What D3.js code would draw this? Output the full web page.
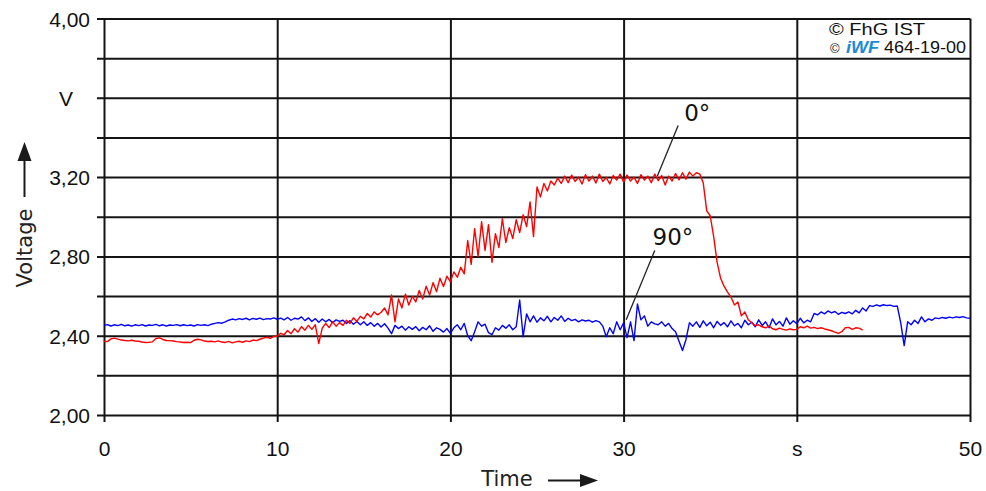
<!DOCTYPE html>
<html>
<head>
<meta charset="utf-8">
<script src="https://cdn.jsdelivr.net/npm/d3@7"></script>
<style>
  html, body { margin: 0; padding: 0; background: #fff; }
  svg { display: block; }
</style>
</head>
<body>
<svg id="chart" width="986" height="491"></svg>
<script>
// Sampling interval of both recorded traces, seconds
const sampleStep = 0.2;

// Sensor voltage at 0° orientation (red), V, sampled from t = 0 s
const voltage0 = [
  2.372, 2.370, 2.384, 2.388, 2.383, 2.378, 2.376, 2.374, 2.377, 2.373,
  2.372, 2.368, 2.366, 2.367, 2.369, 2.386, 2.389, 2.381, 2.376, 2.375,
  2.373, 2.370, 2.368, 2.366, 2.367, 2.365, 2.377, 2.382, 2.379, 2.373,
  2.371, 2.372, 2.369, 2.374, 2.368, 2.366, 2.371, 2.364, 2.369, 2.372,
  2.367, 2.374, 2.370, 2.378, 2.375, 2.382, 2.388, 2.392, 2.387, 2.396,
  2.398, 2.412, 2.405, 2.426, 2.410, 2.435, 2.418, 2.446, 2.428, 2.452,
  2.432, 2.455, 2.360, 2.438, 2.462, 2.441, 2.470, 2.448, 2.466, 2.452,
  2.478, 2.462, 2.490, 2.472, 2.498, 2.485, 2.512, 2.494, 2.520, 2.505,
  2.518, 2.540, 2.505, 2.605, 2.470, 2.585, 2.540, 2.610, 2.555, 2.598,
  2.570, 2.628, 2.585, 2.650, 2.605, 2.668, 2.622, 2.690, 2.648, 2.700,
  2.672, 2.722, 2.695, 2.745, 2.712, 2.880, 2.760, 2.940, 2.800, 2.975,
  2.830, 2.960, 2.770, 2.915, 2.845, 2.990, 2.870, 2.945, 2.890, 2.985,
  2.920, 3.010, 2.950, 3.075, 2.900, 3.150, 3.100, 3.168, 3.130, 3.180,
  3.160, 3.195, 3.168, 3.205, 3.172, 3.210, 3.178, 3.200, 3.165, 3.212,
  3.180, 3.205, 3.170, 3.215, 3.178, 3.198, 3.165, 3.208, 3.185, 3.215,
  3.176, 3.210, 3.180, 3.200, 3.168, 3.212, 3.185, 3.205, 3.172, 3.215,
  3.182, 3.208, 3.160, 3.205, 3.180, 3.218, 3.186, 3.222, 3.190, 3.225,
  3.205, 3.222, 3.215, 3.170, 3.030, 3.005, 2.900, 2.770, 2.690, 2.650,
  2.620, 2.595, 2.555, 2.570, 2.500, 2.520, 2.480, 2.465, 2.450, 2.455,
  2.445, 2.440, 2.448, 2.435, 2.430, 2.438, 2.432, 2.428, 2.434, 2.430,
  2.432, 2.445, 2.440, 2.448, 2.438, 2.442, 2.436, 2.440, 2.434, 2.430,
  2.425, 2.418, 2.412, 2.420, 2.440, 2.442, 2.432, 2.440, 2.438, 2.428
];

// Sensor voltage at 90° orientation (blue), V, sampled from t = 0 s
const voltage90 = [
  2.452, 2.456, 2.449, 2.455, 2.451, 2.457, 2.450, 2.454, 2.448, 2.455,
  2.451, 2.456, 2.449, 2.454, 2.452, 2.457, 2.450, 2.455, 2.449, 2.454,
  2.452, 2.456, 2.450, 2.455, 2.451, 2.454, 2.449, 2.456, 2.452, 2.455,
  2.451, 2.458, 2.462, 2.466, 2.463, 2.470, 2.478, 2.484, 2.480, 2.486,
  2.482, 2.488, 2.480, 2.487, 2.483, 2.489, 2.481, 2.486, 2.484, 2.490,
  2.483, 2.489, 2.480, 2.492, 2.478, 2.488, 2.484, 2.495, 2.476, 2.490,
  2.472, 2.486, 2.468, 2.484, 2.470, 2.482, 2.466, 2.480, 2.472, 2.478,
  2.462, 2.476, 2.458, 2.472, 2.455, 2.470, 2.452, 2.466, 2.448, 2.462,
  2.444, 2.460, 2.438, 2.410, 2.452, 2.436, 2.448, 2.428, 2.445, 2.432,
  2.446, 2.425, 2.442, 2.430, 2.450, 2.422, 2.440, 2.432, 2.418, 2.436,
  2.412, 2.440, 2.455, 2.430, 2.462, 2.400, 2.375, 2.420, 2.470, 2.448,
  2.458, 2.415, 2.405, 2.440, 2.428, 2.452, 2.438, 2.455, 2.430, 2.445,
  2.580, 2.395, 2.510, 2.470, 2.500, 2.468, 2.490, 2.475, 2.498, 2.470,
  2.492, 2.478, 2.500, 2.472, 2.488, 2.476, 2.482, 2.470, 2.480, 2.474,
  2.478, 2.468, 2.476, 2.470, 2.448, 2.395, 2.440, 2.410, 2.470, 2.430,
  2.465, 2.390, 2.470, 2.375, 2.560, 2.480, 2.500, 2.448, 2.470, 2.460,
  2.455, 2.470, 2.448, 2.462, 2.436, 2.420, 2.372, 2.325, 2.380, 2.465,
  2.448, 2.470, 2.442, 2.475, 2.450, 2.468, 2.440, 2.472, 2.452, 2.466,
  2.445, 2.475, 2.450, 2.462, 2.440, 2.478, 2.455, 2.468, 2.445, 2.480,
  2.452, 2.470, 2.440, 2.485, 2.455, 2.472, 2.448, 2.490, 2.458, 2.475,
  2.460, 2.488, 2.465, 2.478, 2.470, 2.512, 2.505, 2.520, 2.510, 2.525,
  2.515, 2.522, 2.508, 2.518, 2.512, 2.520, 2.510, 2.528, 2.515, 2.540,
  2.525, 2.552, 2.548, 2.555, 2.550, 2.556, 2.552, 2.554, 2.548, 2.550,
  2.465, 2.350, 2.470, 2.455, 2.478, 2.462, 2.495, 2.470, 2.485, 2.478,
  2.490, 2.486, 2.492, 2.488, 2.494, 2.490, 2.495, 2.492, 2.496, 2.490, 2.488
];

// Axis ticks and their labels
const xTicks = [0, 10, 20, 30, 40, 50];
const xTickLabels = ["0", "10", "20", "30", "s", "50"];
const yTicks = [2.0, 2.2, 2.4, 2.6, 2.8, 3.0, 3.2, 3.4, 3.6, 3.8, 4.0];
const yTickLabels = ["2,00", "", "2,40", "", "2,80", "", "3,20", "", "V", "", "4,00"];
const yUnitLabel = "V";

// Curve annotations: label anchor and leader line end, in data units
const curveLabels = [
  { text: "0°",  t: 34.25, v: 3.485, fromT: 33.15, fromV: 3.46, toT: 31.95, toV: 3.205 },
  { text: "90°", t: 32.85, v: 2.855, fromT: 31.80, fromV: 2.83, toT: 30.15, toV: 2.48 }
];

const svg = d3.select("#chart");
const x = d3.scaleLinear().domain([0, 50]).range([104, 970]);
const y = d3.scaleLinear().domain([2, 4]).range([415, 18.5]);

const gridColor = "#141414";
const tickFont = "'Liberation Sans', Arial, sans-serif";
const labelFont = "'DejaVu Sans', Verdana, sans-serif";

// Horizontal grid with left ticks
const yAxis = d3.axisLeft(y)
  .tickValues(yTicks)
  .tickSize(-(x.range()[1] - 97))
  .tickPadding(7)
  .tickFormat((d, i) => yTickLabels[i]);
const gy = svg.append("g").attr("transform", "translate(97,0)").call(yAxis);
gy.select(".domain").remove();
gy.selectAll(".tick line").attr("stroke", gridColor).attr("stroke-width", 2);
gy.selectAll(".tick text")
  .attr("fill", "#111").attr("font-family", tickFont).attr("font-size", 21)
  .attr("dy", "0.36em");
// the unit sits further left than the numbers
gy.selectAll(".tick text").filter(function () { return this.textContent === yUnitLabel; })
  .attr("x", -24);

// Vertical grid with bottom ticks
const yBottom = 422;
const xAxis = d3.axisBottom(x)
  .tickValues(xTicks)
  .tickSize(-(yBottom - y.range()[1]))
  .tickPadding(19)
  .tickFormat((d, i) => xTickLabels[i]);
const gx = svg.append("g").attr("transform", `translate(0,${yBottom})`).call(xAxis);
gx.select(".domain").remove();
gx.selectAll(".tick line").attr("stroke", gridColor).attr("stroke-width", 2);
gx.selectAll(".tick text")
  .attr("fill", "#111").attr("font-family", tickFont).attr("font-size", 21);

// Signal traces
const line = d3.line()
  .x((d, i) => x(i * sampleStep))
  .y(d => y(d));

svg.append("path").datum(voltage90)
  .attr("fill", "none").attr("stroke", "#0000ff").attr("stroke-width", 1.4)
  .attr("stroke-linejoin", "round").attr("d", line);
svg.append("path").datum(voltage0)
  .attr("fill", "none").attr("stroke", "#ff0000").attr("stroke-width", 1.4)
  .attr("stroke-linejoin", "round").attr("d", line);

// Curve labels with leader lines
curveLabels.forEach(c => {
  svg.append("line")
    .attr("x1", x(c.fromT)).attr("y1", y(c.fromV))
    .attr("x2", x(c.toT)).attr("y2", y(c.toV))
    .attr("stroke", "#222").attr("stroke-width", 1.3);
  svg.append("text")
    .attr("x", x(c.t)).attr("y", y(c.v))
    .attr("text-anchor", "middle")
    .attr("font-family", labelFont).attr("font-size", 23)
    .attr("fill", "#111").text(c.text);
});

// Axis titles with arrows
const arrowColor = "#1a1a1a";
svg.append("text")
  .attr("transform", "translate(32,248) rotate(-90)")
  .attr("text-anchor", "middle")
  .attr("font-family", labelFont).attr("font-size", 21).attr("fill", "#222")
  .text("Voltage");
svg.append("line")
  .attr("x1", 24.5).attr("y1", 197).attr("x2", 24.5).attr("y2", 155)
  .attr("stroke", arrowColor).attr("stroke-width", 2);
svg.append("path")
  .attr("d", "M24.5,142 L17.5,161 L31.5,161 Z").attr("fill", arrowColor);

svg.append("text")
  .attr("x", 507).attr("y", 486)
  .attr("text-anchor", "middle")
  .attr("font-family", labelFont).attr("font-size", 21).attr("fill", "#222")
  .text("Time");
svg.append("line")
  .attr("x1", 548).attr("y1", 480.5).attr("x2", 585).attr("y2", 480.5)
  .attr("stroke", arrowColor).attr("stroke-width", 2);
svg.append("path")
  .attr("d", "M598,480.5 L580,474 L580,487 Z").attr("fill", arrowColor);

// Copyright notes
const credit = svg.append("g").attr("font-family", tickFont).attr("fill", "#111");
credit.append("text").attr("x", 829).attr("y", 34.5).attr("font-size", 17)
  .attr("textLength", 96).attr("lengthAdjust", "spacingAndGlyphs").text("© FhG IST");
credit.append("text").attr("x", 830).attr("y", 53).attr("font-size", 13).text("©");
credit.append("text").attr("x", 846).attr("y", 53).attr("font-size", 16)
  .attr("font-weight", "bold").attr("font-style", "italic").attr("fill", "#1c8ad6")
  .attr("textLength", 33).attr("lengthAdjust", "spacingAndGlyphs").text("iWF");
credit.append("text").attr("x", 884).attr("y", 53).attr("font-size", 16)
  .attr("textLength", 82).attr("lengthAdjust", "spacingAndGlyphs").text("464-19-00");
</script>
</body>
</html>
